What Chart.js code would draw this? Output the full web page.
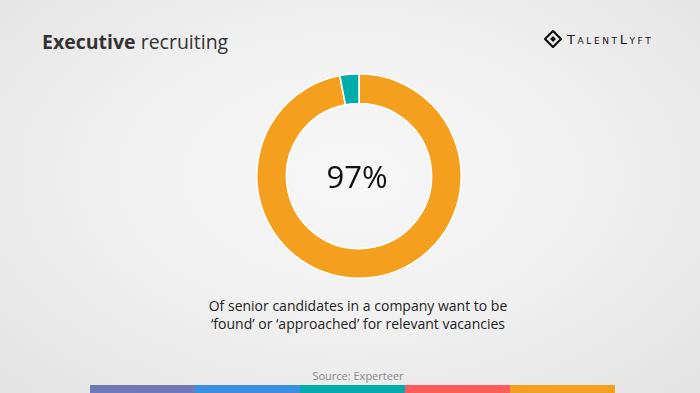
<!DOCTYPE html>
<html>
<head>
<meta charset="utf-8">
<script src="https://cdn.jsdelivr.net/npm/chart.js@4"></script>
<style>
  html, body { margin: 0; padding: 0; }
  body {
    width: 700px; height: 393px; overflow: hidden; position: relative;
    font-family: "Open Sans", sans-serif;
    background: radial-gradient(ellipse at 50% 45%, #f7f7f7 0%, #f1f1f1 45%, #e3e3e3 100%);
  }
  #title { position: absolute; left: 42px; top: 28px; font-size: 19.5px; color: #333; }
  #title b { font-weight: 700; }
  #logo { position: absolute; left: 544px; top: 28px; height: 22px; display: flex; align-items: center; }
  #logo span { font-family: "DejaVu Sans", sans-serif; font-size: 13px; font-variant: small-caps; letter-spacing: 2.6px; color: #111; margin-left: 5px; }
  #chartBox { position: absolute; left: 256px; top: 73px; width: 206px; height: 206px; }
  #center { position: absolute; left: 257px; top: 155px; width: 200px; text-align: center; font-size: 31px; color: #111; }
  #caption { position: absolute; left: 150px; top: 297px; width: 416px; text-align: center; font-size: 14px; line-height: 18px; color: #222; }
  #source { position: absolute; left: 200px; top: 368px; width: 316px; text-align: center; font-size: 11px; color: #888; }
  #stripe { position: absolute; left: 90px; top: 385px; width: 525px; height: 8px; display: flex; }
  #stripe div { flex: 1; }
</style>
</head>
<body>
<div id="title"><b>Executive</b> recruiting</div>
<div id="logo">
  <svg width="18" height="18" viewBox="0 0 18 18">
    <path d="M9 1 L17 9 L9 17 L1 9 Z" fill="none" stroke="#111" stroke-width="2.2"/>
    <path d="M9 6 L12 9 L9 12 L6 9 Z" fill="#111"/>
  </svg>
  <span>TalentLyft</span>
</div>
<div id="chartBox"><canvas id="donut"></canvas></div>
<div id="center">97%</div>
<div id="caption">Of senior candidates in a company want to be<br>‘found’ or ‘approached’ for relevant vacancies</div>
<div id="source">Source: Experteer</div>
<div id="stripe">
  <div style="background:#6f7bb6"></div>
  <div style="background:#3a8fe0"></div>
  <div style="background:#00adaa"></div>
  <div style="background:#ff5b5a"></div>
  <div style="background:#f59f1f"></div>
</div>
<script>
const labels = ["Want to be found", "Other"];
const values = [97, 3];
const colors = ["#f59f1f", "#00adaa"];

const ctx = document.getElementById("donut").getContext("2d");

new Chart(ctx, {
    type: "doughnut",
    data: {
        labels: labels,
        datasets: [{
            data: values,
            backgroundColor: colors,
            borderColor: "#ffffff",
            borderWidth: 1.5
        }]
    },
    options: {
        responsive: true,
        maintainAspectRatio: false,
        animation: false,
        cutout: "71%",
        plugins: {
            legend: { display: false },
            tooltip: { enabled: false }
        }
    }
});
</script>
</body>
</html>
